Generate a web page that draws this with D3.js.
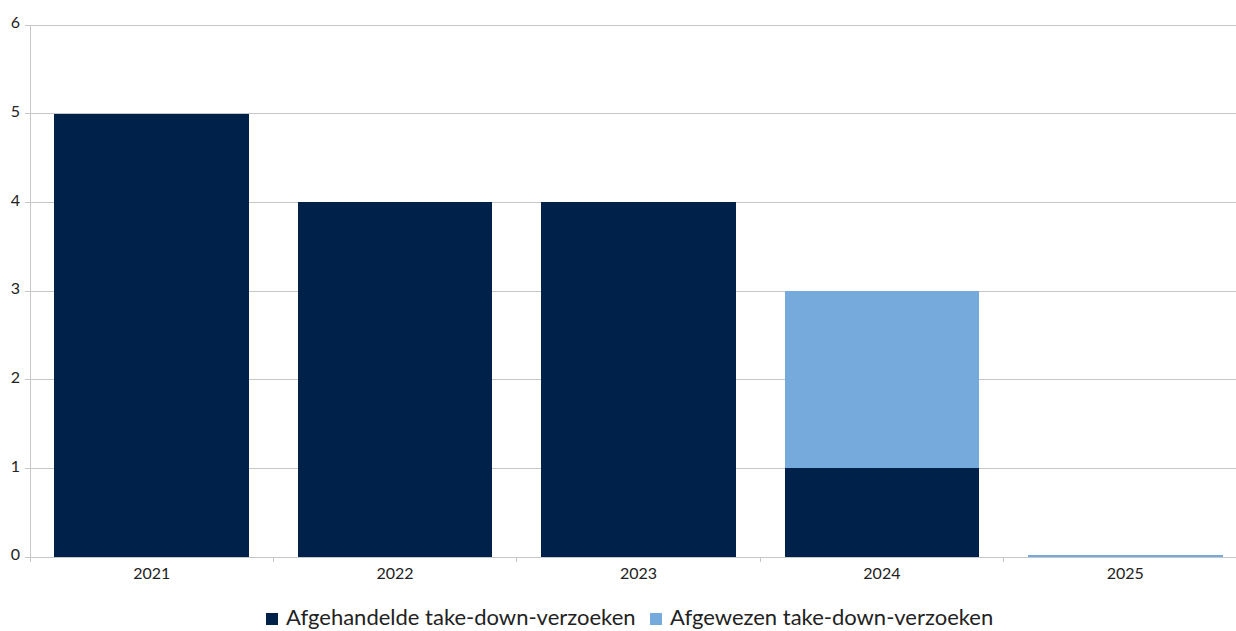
<!DOCTYPE html>
<html><head><meta charset="utf-8">
<script src="https://cdn.jsdelivr.net/npm/d3@7"></script>
<style>body{margin:0;background:#fff}svg{display:block;font-family:Lato,"Open Sans",sans-serif}</style>
</head><body><svg id="c" width="1236" height="631"></svg>
<script>
const categories = ["2021","2022","2023","2024","2025"];
const handled = [5,4,4,1,0];
const rejected = [0,0,0,2,0.02];
const seriesNames = ["Afgehandelde take-down-verzoeken","Afgewezen take-down-verzoeken"];
const colors = ["#00224a","#77aadc"];
const yTicks = [0,1,2,3,4,5,6];

(function(){
const svg = d3.select("#c");
const mLeft = 30, mTop = 25, mBottom = 557, mRight = 1247;
const x = d3.scaleBand().domain(categories).range([mLeft, mRight]).paddingInner(0.2).paddingOuter(0.1);
const y = d3.scaleLinear().domain([0,6]).range([mBottom, mTop]);

svg.append("g").selectAll("line").data(yTicks).join("line")
  .attr("x1", mLeft-5).attr("x2", 1236).attr("y1", d=>y(d)).attr("y2", d=>y(d))
  .attr("stroke", "#c6c6c6").attr("stroke-width", 1).attr("shape-rendering","crispEdges");
svg.append("line").attr("x1",mLeft).attr("x2",mLeft).attr("y1",mTop).attr("y2",mBottom)
  .attr("stroke","#c6c6c6").attr("shape-rendering","crispEdges");
svg.append("g").selectAll("text").data(yTicks).join("text")
  .attr("x", 20).attr("y", d=>y(d)).attr("dy","0.2em").attr("text-anchor","end")
  .attr("font-size",16).attr("fill","#222").text(d=>d);

const data = [];
categories.forEach((c,i)=>{ let base=0; [handled[i], rejected[i]].forEach((v,k)=>{ if(v>0) data.push({c,k,y0:base,y1:base+v}); base+=v; }); });
svg.append("g").selectAll("rect").data(data).join("rect")
  .attr("x", d=>x(d.c)).attr("width", x.bandwidth())
  .attr("y", d=>y(d.y1)).attr("height", d=>Math.max(2, y(d.y0)-y(d.y1)))
  .attr("fill", d=>colors[d.k]).attr("shape-rendering","crispEdges");

svg.append("line").attr("x1",mLeft).attr("x2",1236).attr("y1",mBottom).attr("y2",mBottom)
  .attr("stroke","#c6c6c6").attr("shape-rendering","crispEdges");
const bounds = categories.map(c=>x(c)-x.step()*x.paddingInner()/2).slice(1);
svg.append("g").selectAll("line").data([mLeft, ...bounds]).join("line")
  .attr("x1",d=>d).attr("x2",d=>d).attr("y1",mBottom).attr("y2",mBottom+5)
  .attr("stroke","#c6c6c6").attr("shape-rendering","crispEdges");
svg.append("g").selectAll("text").data(categories).join("text")
  .attr("x", d=>x(d)+x.bandwidth()/2).attr("y", mBottom+22).attr("text-anchor","middle")
  .attr("font-size",16).attr("fill","#222").text(d=>d);

const lg = svg.append("g");
const lx = [266, 650];
seriesNames.forEach((n,i)=>{
  lg.append("rect").attr("x",lx[i]).attr("y",613).attr("width",12).attr("height",12).attr("fill",colors[i]);
  lg.append("text").attr("x",lx[i]+20).attr("y",625).attr("font-size",22).attr("fill","#222").text(n);
});
})();
</script></body></html>
